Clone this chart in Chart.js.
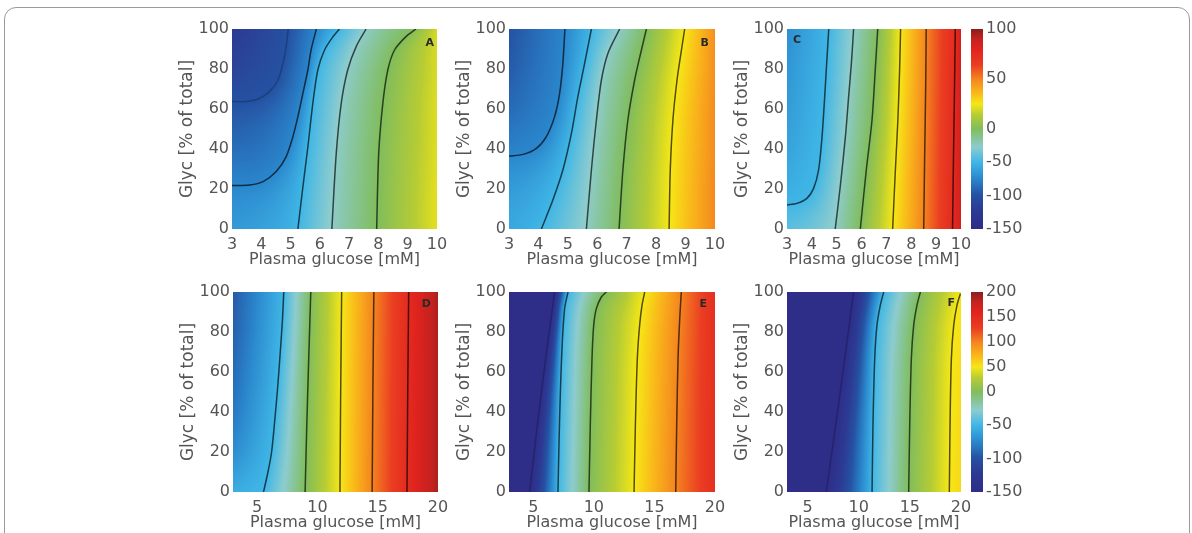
<!DOCTYPE html>
<html>
<head>
<meta charset="utf-8">
<script src="https://cdn.jsdelivr.net/npm/chart.js@4.4.1/dist/chart.umd.min.js"></script>
<style>
  body { margin: 0; background: #fff; width: 1192px; height: 533px; overflow: hidden; position: relative; }
  .frame { position: absolute; left: 4px; top: 7px; width: 1186px; height: 600px; border: 1.5px solid #9a9a9a; border-radius: 12px; box-sizing: border-box; }
  canvas { position: absolute; }
</style>
</head>
<body>
<div class="frame"></div>
<canvas id="pA" width="302" height="270" style="left:160px;top:15px"></canvas>
<canvas id="pB" width="303" height="270" style="left:437px;top:15px"></canvas>
<canvas id="pC" width="271" height="270" style="left:715px;top:15px"></canvas>
<canvas id="cbTop" width="73" height="225" style="left:960px;top:15px"></canvas>
<canvas id="pD" width="302" height="270" style="left:161px;top:278px"></canvas>
<canvas id="pE" width="303" height="270" style="left:437px;top:278px"></canvas>
<canvas id="pF" width="271" height="270" style="left:715px;top:278px"></canvas>
<canvas id="cbBottom" width="73" height="225" style="left:960px;top:278px"></canvas>
<script>
// rows of Glyc (%) where the edge values are read
const glycRows = [0, 20, 40, 60, 80, 100];
const xTicksTop = [3, 4, 5, 6, 7, 8, 9, 10];
const xTicksBottom = [5, 10, 15, 20];
const yTicks = [0, 20, 40, 60, 80, 100];
const cbTicksTop = [-150, -100, -50, 0, 50, 100];
const cbTicksBottom = [-150, -100, -50, 0, 50, 100, 150, 200];

// panel A : contour levels, contour paths [glucose, glyc], values on left / right edge
const aLevels = [-100, -75, -50, -25, 0];
const aLines = [
  [[3, 63.7], [3.49, 63.8], [3.89, 65], [4.28, 68.7], [4.57, 74.5], [4.74, 82.8], [4.85, 91.2], [4.92, 100]],
  [[3, 21.7], [3.6, 22], [4.06, 23.7], [4.51, 28.7], [4.85, 36.2], [5.08, 46.2], [5.25, 56.2], [5.42, 67.8], [5.59, 79.5], [5.7, 89.5], [5.88, 100]],
  [[5.25, 0], [5.42, 21], [5.59, 41], [5.76, 62.8], [5.93, 79.5], [6.16, 89.5], [6.44, 96], [6.67, 100]],
  [[6.41, 0], [6.56, 37.8], [6.73, 62.8], [6.95, 79.5], [7.24, 91.2], [7.58, 100]],
  [[7.94, 0], [8.01, 37.8], [8.15, 62.8], [8.32, 79.5], [8.55, 89.5], [8.94, 96.2], [9.28, 100]]
];
const aLeft = [-65, -74, -86, -98, -112, -122];
const aRight = [22, 22, 21, 21, 20, 20];

// panel B
const bLevels = [-75, -50, -25, 0, 25];
const bLines = [
  [[3, 36.5], [3.48, 37.3], [3.93, 40.3], [4.27, 46.2], [4.55, 56.2], [4.72, 67.8], [4.83, 82.8], [4.9, 100]],
  [[4.1, 0], [4.49, 14.5], [4.83, 29.5], [5.12, 47.8], [5.34, 66.2], [5.57, 82.8], [5.8, 100]],
  [[5.63, 0], [5.8, 29.5], [5.97, 54.5], [6.14, 74.5], [6.36, 87.8], [6.76, 100]],
  [[6.74, 0], [6.87, 29.5], [7.04, 54.5], [7.27, 74.5], [7.5, 89.5], [7.67, 100]],
  [[8.44, 0], [8.48, 29.5], [8.57, 54.5], [8.71, 74.5], [8.86, 89.5], [8.97, 100]]
];
const bLeft = [-56, -66, -77, -88, -95, -99];
const bRight = [49, 49, 48, 48, 47, 47];

// panel C
const cLevels = [-50, -25, 0, 25, 50, 75];
const cLines = [
  [[3, 12], [3.4, 12.8], [3.8, 15.3], [4.07, 20.3], [4.27, 29.5], [4.41, 46.2], [4.5, 62.8], [4.58, 79.5], [4.68, 100]],
  [[4.94, 0], [5.14, 21], [5.35, 46.2], [5.48, 66.2], [5.59, 82.8], [5.68, 100]],
  [[5.95, 0], [6.19, 29.5], [6.42, 54.5], [6.55, 79.5], [6.65, 100]],
  [[7.25, 0], [7.36, 29.5], [7.46, 54.5], [7.53, 79.5], [7.57, 100]],
  [[8.5, 0], [8.54, 37.8], [8.58, 71], [8.6, 100]],
  [[9.66, 0], [9.7, 37.8], [9.74, 71], [9.77, 100]]
];
const cLeft = [-45, -54, -60, -64, -67, -70];
const cRight = [86, 86, 86, 86, 86, 86];

// panel D
const dLevels = [-50, 0, 50, 100, 150];
const dLines = [
  [[5.53, 0], [5.9, 10], [6.2, 20], [6.45, 35], [6.7, 52], [6.92, 70], [7.1, 86], [7.21, 100]],
  [[8.98, 0], [9.12, 33.6], [9.28, 66.8], [9.45, 100]],
  [[11.87, 0], [11.93, 50.2], [12.01, 100]],
  [[14.54, 0], [14.6, 50.2], [14.68, 100]],
  [[17.43, 0], [17.49, 50.2], [17.57, 100]]
];
const dLeft = [-55, -72, -82, -88, -93, -96];
const dRight = [188, 188, 188, 188, 188, 188];

// panel E
const eLevels = [-150, -50, 0, 50, 100];
const eLines = [
  [[4.71, 0], [5.67, 50], [6.77, 100]],
  [[7.04, 0], [7.13, 25.2], [7.24, 50.2], [7.4, 75.1], [7.59, 91.7], [7.87, 100]],
  [[9.6, 0], [9.71, 33.6], [9.85, 66.8], [9.99, 83.4], [10.21, 91.7], [10.62, 97.5], [11.03, 100]],
  [[13.32, 0], [13.43, 33.6], [13.59, 66.8], [13.78, 83.4], [13.98, 93.4], [14.2, 100]],
  [[16.76, 0], [16.84, 33.6], [16.95, 66.8], [17.09, 86.7], [17.22, 100]]
];
const eLeft = [-200, -200, -200, -200, -200, -200];
const eRight = [145, 145, 145, 145, 145, 145];

// panel F
const fLevels = [-150, -50, 0, 50];
const fLines = [
  [[6.84, 0], [8.21, 50.2], [9.51, 100]],
  [[11.31, 0], [11.4, 33.6], [11.57, 66.8], [11.79, 83.4], [12.12, 93.4], [12.45, 100]],
  [[14.89, 0], [14.99, 33.6], [15.15, 66.8], [15.38, 83.4], [15.7, 93.4], [16.03, 100]],
  [[18.86, 0], [18.93, 33.6], [19.06, 66.8], [19.29, 83.4], [19.61, 93.4], [19.94, 99.2]]
];
const fLeft = [-200, -200, -200, -200, -200, -200];
const fRight = [57, 57, 56, 55, 53, 50];

// colour map, position along the colour bar (0 bottom .. 1 top)
const cmapStops = [
  [0.00, '#2e2d88'], [0.10, '#2c3b94'], [0.17, '#2552a2'], [0.25, '#2a86cc'], [0.333, '#3fb6e6'],
  [0.41, '#8dccce'], [0.50, '#80bd5c'], [0.57, '#b6cc34'], [0.625, '#f6e716'], [0.68, '#f9b91a'],
  [0.75, '#f4841f'], [0.82, '#ea3d22'], [0.90, '#e0231e'], [0.95, '#c4221f'], [1.00, '#8a1d1d']
];
const cbTop = { min: -150, max: 100 };
const cbBottom = { min: -150, max: 200 };

Chart.defaults.font.family = 'DejaVu Sans';
const textColor = '#555';

function hexRgb(h) {
  return [parseInt(h.slice(1, 3), 16), parseInt(h.slice(3, 5), 16), parseInt(h.slice(5, 7), 16)];
}
const cmapRgbStops = cmapStops.map(s => [s[0], hexRgb(s[1])]);
function cmapRgb(f) {
  f = Math.min(1, Math.max(0, f));
  for (let i = 0; i < cmapRgbStops.length - 1; i++) {
    const [f1, a] = cmapRgbStops[i], [f2, b] = cmapRgbStops[i + 1];
    if (f <= f2) {
      const t = (f - f1) / (f2 - f1);
      return [a[0] + (b[0] - a[0]) * t, a[1] + (b[1] - a[1]) * t, a[2] + (b[2] - a[2]) * t];
    }
  }
  return cmapRgbStops[cmapRgbStops.length - 1][1];
}
// colour bar is split at 0: negative half and positive half have the same length
function toFrac(v, cb) {
  return v < 0 ? 0.5 * (1 - v / cb.min) : 0.5 + 0.5 * v / cb.max;
}
function lineColor(level, cb) {
  const c = cmapRgb(toFrac(level, cb)).map(v => Math.round(v * 0.3));
  const alpha = level <= -100 ? 0.3 : 0.95;
  return 'rgba(' + c.join(',') + ',' + alpha + ')';
}
function edgeAt(arr, gy) {
  for (let i = 0; i < glycRows.length - 1; i++) {
    if (gy <= glycRows[i + 1]) {
      const t = (gy - glycRows[i]) / (glycRows[i + 1] - glycRows[i]);
      return arr[i] + (arr[i + 1] - arr[i]) * t;
    }
  }
  return arr[arr.length - 1];
}
function segDist(px, py, ax, ay, bx, by) {
  const dx = bx - ax, dy = by - ay;
  const l2 = dx * dx + dy * dy;
  let t = l2 ? ((px - ax) * dx + (py - ay) * dy) / l2 : 0;
  t = Math.max(0, Math.min(1, t));
  const ex = ax + t * dx - px, ey = ay + t * dy - py;
  return Math.sqrt(ex * ex + ey * ey);
}

// paints the field: each pixel lies between two contour levels (found along its row),
// and is weighted by its distance to those two contours
const heatFill = {
  id: 'heatFill',
  beforeDatasetsDraw(chart, args, opts) {
    const { ctx, chartArea: a } = chart;
    const x = chart.scales.x, y = chart.scales.y;
    const L = Math.round(a.left), T = Math.round(a.top);
    const W = Math.round(a.right) - L, H = Math.round(a.bottom) - T;
    const img = ctx.createImageData(W, H);
    const lv = opts.levels;
    const pix = opts.lines.map(line => line.map(p => [x.getPixelForValue(p[0]), y.getPixelForValue(p[1])]));
    const dist = (i, px, py) => {
      let d = Infinity;
      const s = pix[i];
      for (let k = 0; k < s.length - 1; k++) {
        d = Math.min(d, segDist(px, py, s[k][0], s[k][1], s[k + 1][0], s[k + 1][1]));
      }
      return d;
    };
    const neighbour = (i, sign) => {
      let best = -1;
      lv.forEach((l, j) => {
        if ((l - lv[i]) * sign > 0 && (best < 0 || Math.abs(l - lv[i]) < Math.abs(lv[best] - lv[i]))) best = j;
      });
      return best;
    };
    for (let r = 0; r < H; r++) {
      const py = T + r + 0.5;
      const gy = y.getValueForPixel(py);
      const pts = [{ x: x.min, v: edgeAt(opts.left, gy), i: -1 }];
      opts.lines.forEach((line, i) => {
        for (let k = 0; k < line.length - 1; k++) {
          const [x1, y1] = line[k], [x2, y2] = line[k + 1];
          if ((gy >= y1 && gy < y2) || (gy >= y2 && gy < y1)) {
            pts.push({ x: x1 + (gy - y1) / (y2 - y1) * (x2 - x1), v: lv[i], i: i });
          }
        }
      });
      pts.push({ x: x.max, v: edgeAt(opts.right, gy), i: -1 });
      pts.sort((p, q) => p.x - q.x);
      let k = 0;
      for (let c = 0; c < W; c++) {
        const px = L + c + 0.5;
        const gx = x.getValueForPixel(px);
        while (k < pts.length - 2 && gx >= pts[k + 1].x) k++;
        const p = pts[k], q = pts[k + 1];
        let v;
        const lin = () => q.x === p.x ? p.v : p.v + (q.v - p.v) * (gx - p.x) / (q.x - p.x);
        if (p.i >= 0 && q.i >= 0) {
          if (p.v === q.v) v = p.v;
          else {
            const d1 = dist(p.i, px, py), d2 = dist(q.i, px, py);
            v = (p.v * d2 + q.v * d1) / (d1 + d2 || 1);
          }
        } else if (p.i < 0 && q.i < 0) {
          v = lin();
        } else {
          const cp = p.i >= 0 ? p : q, ep = p.i >= 0 ? q : p;
          const j = neighbour(cp.i, Math.sign(ep.v - cp.v));
          if (j < 0 || ep.v === cp.v) v = lin();
          else {
            const d1 = dist(cp.i, px, py), d2 = dist(j, px, py);
            v = (cp.v * d2 + lv[j] * d1) / (d1 + d2 || 1);
          }
        }
        const col = cmapRgb(toFrac(v, opts.cb));
        const idx = (r * W + c) * 4;
        img.data[idx] = col[0];
        img.data[idx + 1] = col[1];
        img.data[idx + 2] = col[2];
        img.data[idx + 3] = 255;
      }
    }
    ctx.putImageData(img, L, T);
  }
};

const panelTag = {
  id: 'panelTag',
  afterDatasetsDraw(chart, args, o) {
    const { ctx, chartArea: a } = chart;
    ctx.save();
    ctx.font = 'bold 11px "DejaVu Sans"';
    ctx.fillStyle = '#2a2a2a';
    ctx.textBaseline = 'middle';
    ctx.textAlign = o.side === 'left' ? 'left' : 'right';
    ctx.fillText(o.text, o.side === 'left' ? a.left + o.dx : a.right - o.dx, a.top + o.dy);
    ctx.restore();
  }
};

function panel(id, o) {
  new Chart(document.getElementById(id), {
    type: 'scatter',
    data: {
      datasets: o.lines.map((line, i) => ({
        data: line.map(p => ({ x: p[0], y: p[1] })),
        showLine: true,
        borderColor: lineColor(o.levels[i], o.cb),
        borderWidth: 1.5,
        pointRadius: 0,
        tension: 0.3
      }))
    },
    options: {
      animation: false,
      responsive: false,
      devicePixelRatio: 1,
      layout: { padding: { top: 14, right: 25, left: 0, bottom: 0 } },
      plugins: {
        legend: { display: false },
        tooltip: { enabled: false },
        heatFill: { lines: o.lines, levels: o.levels, left: o.left, right: o.right, cb: o.cb },
        panelTag: o.tag
      },
      scales: {
        x: {
          type: 'linear', min: o.xMin, max: o.xMax,
          afterBuildTicks: s => { s.ticks = o.xTicks.map(v => ({ value: v })); },
          afterFit: s => { s.height = 56; s.paddingLeft = 0; s.paddingRight = 0; },
          grid: { display: false, drawTicks: false },
          border: { display: false },
          ticks: { autoSkip: false, maxRotation: 0, padding: 6, color: textColor, font: { size: 16 } },
          title: { display: true, text: 'Plasma glucose [mM]', color: textColor, font: { size: 16 }, padding: { top: 0, bottom: 16 } }
        },
        y: {
          type: 'linear', min: 0, max: 100,
          afterBuildTicks: s => { s.ticks = yTicks.map(v => ({ value: v })); },
          afterFit: s => { s.width = 72; s.paddingTop = 0; s.paddingBottom = 0; },
          grid: { display: false, drawTicks: false },
          border: { display: false },
          ticks: { padding: 3, color: textColor, font: { size: 16 } },
          title: { display: true, text: 'Glyc [% of total]', color: textColor, font: { size: 17 }, padding: { top: 17, bottom: 0 } }
        }
      }
    },
    plugins: [heatFill, panelTag]
  });
}

function colorbar(id, ticks, cb) {
  new Chart(document.getElementById(id), {
    type: 'bar',
    data: {
      labels: ['scale'],
      datasets: [{
        data: [[0, 1]],
        barPercentage: 1,
        categoryPercentage: 1,
        borderWidth: 0,
        backgroundColor: c => {
          const a = c.chart.chartArea;
          if (!a) return '#888';
          const g = c.chart.ctx.createLinearGradient(0, a.bottom, 0, a.top);
          cmapStops.forEach(s => g.addColorStop(s[0], s[1]));
          return g;
        }
      }]
    },
    options: {
      animation: false,
      responsive: false,
      devicePixelRatio: 1,
      layout: { padding: { left: 11, top: 14, bottom: 11, right: 0 } },
      plugins: { legend: { display: false }, tooltip: { enabled: false } },
      scales: {
        x: { display: false },
        y: {
          position: 'right', min: 0, max: 1,
          afterBuildTicks: s => { s.ticks = ticks.map(v => ({ value: toFrac(v, cb) })); },
          afterFit: s => { s.width = 50; s.paddingTop = 0; s.paddingBottom = 0; },
          grid: { display: false, drawTicks: false },
          border: { display: false },
          ticks: { padding: 3, color: textColor, font: { size: 16 }, callback: (v, i) => ticks[i] }
        }
      }
    }
  });
}

panel('pA', { lines: aLines, levels: aLevels, left: aLeft, right: aRight, cb: cbTop, xMin: 3, xMax: 10, xTicks: xTicksTop, tag: { text: 'A', side: 'right', dx: 3, dy: 14 } });
panel('pB', { lines: bLines, levels: bLevels, left: bLeft, right: bRight, cb: cbTop, xMin: 3, xMax: 10, xTicks: xTicksTop, tag: { text: 'B', side: 'right', dx: 6, dy: 14 } });
panel('pC', { lines: cLines, levels: cLevels, left: cLeft, right: cRight, cb: cbTop, xMin: 3, xMax: 10, xTicks: xTicksTop, tag: { text: 'C', side: 'left', dx: 6, dy: 11 } });
panel('pD', { lines: dLines, levels: dLevels, left: dLeft, right: dRight, cb: cbBottom, xMin: 3, xMax: 20, xTicks: xTicksBottom, tag: { text: 'D', side: 'right', dx: 7, dy: 12 } });
panel('pE', { lines: eLines, levels: eLevels, left: eLeft, right: eRight, cb: cbBottom, xMin: 3, xMax: 20, xTicks: xTicksBottom, tag: { text: 'E', side: 'right', dx: 8, dy: 12 } });
panel('pF', { lines: fLines, levels: fLevels, left: fLeft, right: fRight, cb: cbBottom, xMin: 3, xMax: 20, xTicks: xTicksBottom, tag: { text: 'F', side: 'right', dx: 6, dy: 11 } });
colorbar('cbTop', cbTicksTop, cbTop);
colorbar('cbBottom', cbTicksBottom, cbBottom);
</script>
</body>
</html>
